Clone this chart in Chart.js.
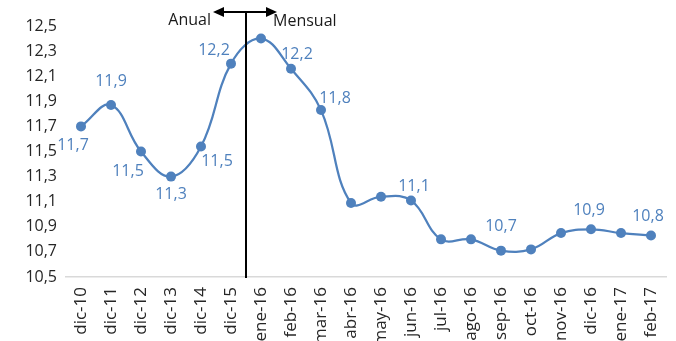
<!DOCTYPE html>
<html>
<head>
<meta charset="utf-8">
<script src="https://cdn.jsdelivr.net/npm/chart.js@4/dist/chart.umd.min.js"></script>
<style>
  body { margin: 0; background: #fff; }
  #wrap { width: 676px; height: 341px; }
</style>
</head>
<body>
<div id="wrap"><canvas id="chart" width="676" height="341"></canvas></div>
<script>
// data
var categories = ['dic-10', 'dic-11', 'dic-12', 'dic-13', 'dic-14', 'dic-15', 'ene-16', 'feb-16', 'mar-16', 'abr-16',
  'may-16', 'jun-16', 'jul-16', 'ago-16', 'sep-16', 'oct-16', 'nov-16', 'dic-16', 'ene-17', 'feb-17'];
var values = [11.70, 11.87, 11.50, 11.30, 11.54, 12.20, 12.40, 12.16, 11.83, 11.09,
  11.14, 11.11, 10.80, 10.80, 10.71, 10.72, 10.85, 10.88, 10.85, 10.83];
// which points carry a value label
var labelled = [0, 1, 2, 3, 4, 5, 7, 8, 11, 14, 17, 19];
var yMin = 10.5, yMax = 12.5, yStep = 0.2;
var leftText = 'Anual', rightText = 'Mensual';

// label offsets (px) from the point, same order as labelled
var labelOffsets = [[-8, 19], [0, -24], [-13, 20], [0, 18], [16, 15], [-17, -13],
  [6, -14], [14, -12], [3, -14], [0, -24], [-2, -19], [-3, -19]];

var blue = '#4f81bd';
var font = "'Open Sans', 'Liberation Sans', sans-serif";

function fmt(v) { return v.toFixed(1).replace('.', ','); }

var extras = {
  id: 'extras',
  afterDatasetsDraw: function(chart) {
    var ctx = chart.ctx;
    var xs = chart.scales.x, ys = chart.scales.y;
    var meta = chart.getDatasetMeta(0);

    // value labels
    ctx.save();
    ctx.font = '16px ' + font;
    ctx.fillStyle = blue;
    ctx.textAlign = 'center';
    ctx.textBaseline = 'middle';
    for (var i = 0; i < labelled.length; i++) {
      var idx = labelled[i];
      var pt = meta.data[idx];
      ctx.fillText(fmt(values[idx]), pt.x + labelOffsets[i][0], pt.y + labelOffsets[i][1]);
    }
    ctx.restore();

    // divider between anual and mensual
    var xm = (xs.getPixelForValue(5) + xs.getPixelForValue(6)) / 2;
    var yb = ys.getPixelForValue(yMin) + 1;
    var ya = 12;
    ctx.save();
    ctx.strokeStyle = '#000';
    ctx.fillStyle = '#000';
    ctx.lineWidth = 2;
    ctx.beginPath();
    ctx.moveTo(xm, ya);
    ctx.lineTo(xm, yb);
    ctx.stroke();

    var x1 = xm - 33, x2 = xm + 31;
    ctx.beginPath();
    ctx.moveTo(x1 + 8, ya);
    ctx.lineTo(x2 - 8, ya);
    ctx.stroke();
    ctx.beginPath();
    ctx.moveTo(x1, ya); ctx.lineTo(x1 + 11, ya - 5); ctx.lineTo(x1 + 11, ya + 5); ctx.closePath();
    ctx.fill();
    ctx.beginPath();
    ctx.moveTo(x2, ya); ctx.lineTo(x2 - 11, ya - 5); ctx.lineTo(x2 - 11, ya + 5); ctx.closePath();
    ctx.fill();

    ctx.font = '16px ' + font;
    ctx.fillStyle = '#1a1a1a';
    ctx.textBaseline = 'middle';
    ctx.textAlign = 'right';
    ctx.fillText(leftText, xm - 35, 20);
    ctx.textAlign = 'left';
    ctx.fillText(rightText, xm + 27, 21);
    ctx.restore();
  }
};

new Chart(document.getElementById('chart'), {
  type: 'line',
  data: {
    labels: categories,
    datasets: [{
      data: values,
      borderColor: blue,
      backgroundColor: blue,
      borderWidth: 2.25,
      pointRadius: 5,
      pointBackgroundColor: blue,
      pointBorderWidth: 0,
      tension: 0.4,
      clip: false
    }]
  },
  options: {
    responsive: false,
    animation: false,
    layout: { padding: { top: 26, right: 10, left: 0, bottom: 0 } },
    plugins: { legend: { display: false }, tooltip: { enabled: false } },
    scales: {
      x: {
        offset: true,
        grid: { display: false, drawTicks: false },
        border: { display: true, color: '#d9d9d9', width: 1.5 },
        ticks: {
          autoSkip: false, minRotation: 90, maxRotation: 90, padding: 10,
          color: '#262626', font: { family: font, size: 17 }
        },
        afterFit: function(s) { s.height = 64; s.paddingLeft = 0; s.paddingRight = 0; }
      },
      y: {
        min: yMin, max: yMax,
        grid: { display: false, drawTicks: false },
        border: { display: false },
        ticks: {
          stepSize: yStep, padding: 9,
          color: '#262626', font: { family: font, size: 16 },
          callback: function(v) { return fmt(v); }
        },
        afterFit: function(s) { s.width = 66; s.paddingTop = 0; s.paddingBottom = 0; }
      }
    }
  },
  plugins: [extras]
});
</script>
</body>
</html>
